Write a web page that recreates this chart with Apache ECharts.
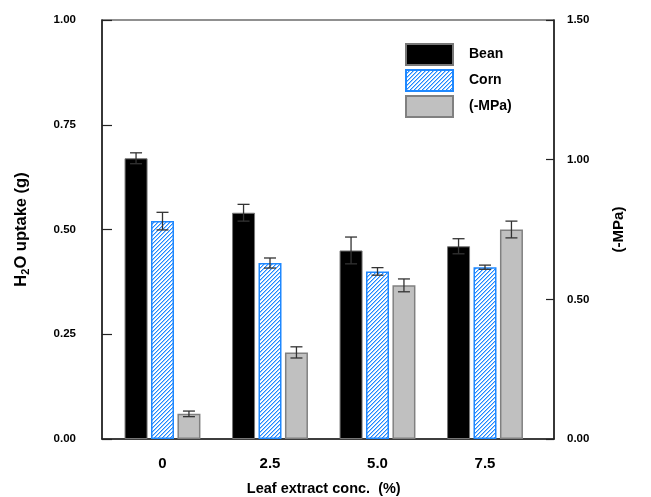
<!DOCTYPE html>
<html>
<head>
<meta charset="utf-8">
<script src="https://cdn.jsdelivr.net/npm/echarts@6/dist/echarts.min.js"></script>
<style>
html,body{margin:0;padding:0;background:#fff;}
#chart{width:651px;height:497px;}
</style>
</head>
<body>
<div id="chart"></div>
<script>
// ---- data ----
const categories = ['0', '2.5', '5.0', '7.5'];
const beanValues = [0.67, 0.54, 0.45, 0.46];
const beanErrors = [0.013, 0.02, 0.032, 0.018];
const cornValues = [0.52, 0.42, 0.40, 0.41];
const cornErrors = [0.021, 0.012, 0.009, 0.005];
const mpaValues = [0.09, 0.31, 0.55, 0.75];
const mpaErrors = [0.01, 0.02, 0.023, 0.03];
const seriesNames = ['Bean', 'Corn', '(-MPa)'];
const leftAxisRange = [0, 1, 0.25];
const rightAxisRange = [0, 1.5, 0.5];

// ---- hatch pattern ----
function makeHatch() {
  const c = document.createElement('canvas');
  c.width = 4; c.height = 4;
  const g = c.getContext('2d');
  g.fillStyle = '#ffffff';
  g.fillRect(0, 0, 4, 4);
  for (let y = 0; y < 4; y++) {
    g.fillStyle = '#1e88ff';
    g.fillRect(3 - y, y, 1, 1);
    g.fillStyle = 'rgba(30,136,255,0.45)';
    g.fillRect((4 - y) % 4, y, 1, 1);
  }
  return c;
}
const hatch = makeHatch();

const FONT = 'Liberation Sans, Arial, sans-serif';
const BAR_W = 23;
const GAP_RATIO = 0.15;
const OFF = BAR_W * (1 + GAP_RATIO);

function errSeries(vals, errs, yIdx, offset) {
  return {
    type: 'custom',
    xAxisIndex: 0,
    yAxisIndex: yIdx,
    z: 10,
    silent: true,
    data: vals.map((v, i) => [i, v, errs[i]]),
    renderItem: function (params, api) {
      const i = api.value(0), v = api.value(1), e = api.value(2);
      const hi = api.coord([i, v + e]);
      const lo = api.coord([i, v - e]);
      const x = hi[0] + offset;
      const hw = 6;
      const st = { stroke: '#333', lineWidth: 1.3 };
      return {
        type: 'group',
        children: [
          { type: 'line', shape: { x1: x, y1: hi[1], x2: x, y2: lo[1] }, style: st },
          { type: 'line', shape: { x1: x - hw, y1: hi[1], x2: x + hw, y2: hi[1] }, style: st },
          { type: 'line', shape: { x1: x - hw, y1: lo[1], x2: x + hw, y2: lo[1] }, style: st }
        ]
      };
    }
  };
}

const chart = echarts.init(document.getElementById('chart'));
chart.setOption({
  animation: false,
  backgroundColor: '#fff',
  textStyle: { fontFamily: FONT },
  legend: {
    data: seriesNames,
    orient: 'vertical',
    left: 400,
    top: 38,
    itemWidth: 47,
    itemHeight: 21,
    itemGap: 3,
    icon: 'rect',
    textStyle: { fontFamily: FONT, fontWeight: 'bold', fontSize: 14, color: '#000', padding: [0, 0, 0, 11] }
  },
  grid: [
    { left: 108.75, right: 112.25, top: 20, bottom: 58, containLabel: false, outerBoundsMode: 'none' },
    { left: 102, right: 97, top: 20, bottom: 58, containLabel: false, outerBoundsMode: 'none',
      show: true, borderColor: '#222', borderWidth: 1.2, backgroundColor: 'transparent' }
  ],
  xAxis: [
    {
      type: 'category', gridIndex: 0, data: categories,
      axisLine: { show: false }, axisTick: { show: false }, splitLine: { show: false },
      axisLabel: { fontFamily: FONT, fontWeight: 'bold', fontSize: 15, color: '#000', margin: 17 },
      name: 'Leaf extract conc.  (%)', nameLocation: 'middle', nameGap: 42,
      nameTextStyle: { fontFamily: FONT, fontWeight: 'bold', fontSize: 14.5, color: '#000' }
    },
    {
      type: 'value', gridIndex: 1, min: 0, max: 1,
      axisLine: { show: true, lineStyle: { color: '#222', width: 1.5 } },
      axisTick: { show: false }, axisLabel: { show: false }, splitLine: { show: false }
    }
  ],
  yAxis: [
    { type: 'value', gridIndex: 0, min: leftAxisRange[0], max: leftAxisRange[1], show: false },
    { type: 'value', gridIndex: 0, min: rightAxisRange[0], max: rightAxisRange[1], show: false },
    {
      type: 'value', gridIndex: 1, position: 'left',
      min: leftAxisRange[0], max: leftAxisRange[1], interval: leftAxisRange[2],
      axisLine: { show: true, lineStyle: { color: '#222', width: 1.5 } },
      axisTick: { show: true, inside: true, length: 10, lineStyle: { color: '#222', width: 1.2 } },
      splitLine: { show: false },
      axisLabel: { fontFamily: FONT, fontWeight: 'bold', fontSize: 11.5, color: '#000', margin: 26,
        formatter: v => v.toFixed(2) },
      name: '{a|H}{s|2}{a|O uptake (g)}', nameLocation: 'middle', nameGap: 71, nameRotate: 90,
      nameTextStyle: {
        rich: {
          a: { fontFamily: FONT, fontWeight: 'bold', fontSize: 16.5, color: '#000' },
          s: { fontFamily: FONT, fontWeight: 'bold', fontSize: 11, color: '#000', verticalAlign: 'bottom', padding: [8, 0, 0, 0] }
        }
      }
    },
    {
      type: 'value', gridIndex: 1, position: 'right',
      min: rightAxisRange[0], max: rightAxisRange[1], interval: rightAxisRange[2],
      axisLine: { show: true, lineStyle: { color: '#222', width: 1.5 } },
      axisTick: { show: true, inside: true, length: 8, lineStyle: { color: '#222', width: 1.2 } },
      splitLine: { show: false },
      axisLabel: { fontFamily: FONT, fontWeight: 'bold', fontSize: 11.5, color: '#000', margin: 13,
        formatter: v => v.toFixed(2) },
      name: '(-MPa)', nameLocation: 'middle', nameGap: 57, nameRotate: 90,
      nameTextStyle: { fontFamily: FONT, fontWeight: 'bold', fontSize: 15, color: '#000' }
    }
  ],
  series: [
    {
      name: seriesNames[0], type: 'bar', xAxisIndex: 0, yAxisIndex: 0, data: beanValues,
      barWidth: BAR_W, barGap: (GAP_RATIO * 100) + '%',
      itemStyle: { color: '#000', borderColor: '#777', borderWidth: 1 }
    },
    {
      name: seriesNames[1], type: 'bar', xAxisIndex: 0, yAxisIndex: 0, data: cornValues,
      barWidth: BAR_W, barGap: (GAP_RATIO * 100) + '%',
      itemStyle: { color: { image: hatch, repeat: 'repeat' }, borderColor: '#1e88ff', borderWidth: 1.5 }
    },
    {
      name: seriesNames[2], type: 'bar', xAxisIndex: 0, yAxisIndex: 1, data: mpaValues,
      barWidth: BAR_W, barGap: (GAP_RATIO * 100) + '%',
      itemStyle: { color: '#c0c0c0', borderColor: '#808080', borderWidth: 1.5 }
    },
    errSeries(beanValues, beanErrors, 0, -OFF),
    errSeries(cornValues, cornErrors, 0, 0),
    errSeries(mpaValues, mpaErrors, 1, OFF)
  ]
});
</script>
</body>
</html>
